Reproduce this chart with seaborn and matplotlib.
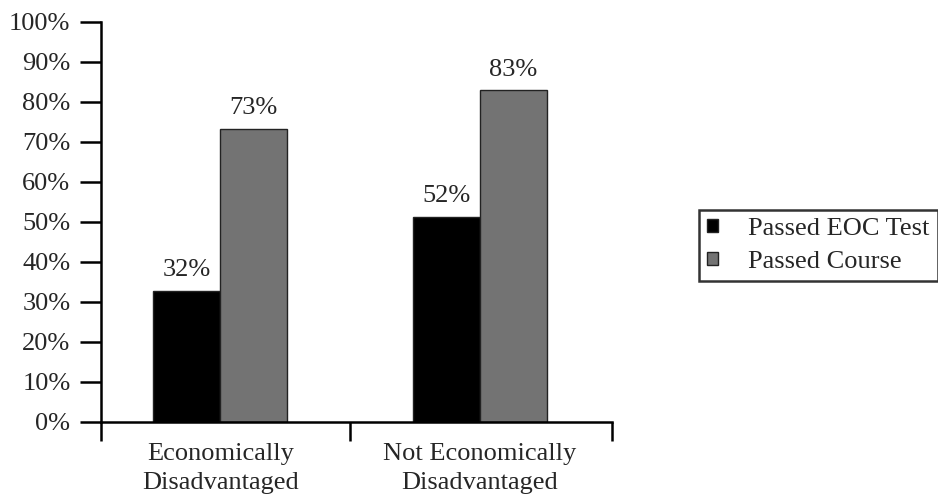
import matplotlib
matplotlib.use("Agg")
import matplotlib.pyplot as plt
import seaborn as sns
import pandas as pd

categories = ["Economically\nDisadvantaged", "Not Economically\nDisadvantaged"]
series_names = ["Passed EOC Test", "Passed Course"]
passed_eoc = [0.328, 0.513]
passed_course = [0.732, 0.829]
eoc_labels = ["32%", "52%"]
course_labels = ["73%", "83%"]
ytick_values = [0.0, 0.1, 0.2, 0.3, 0.4, 0.5, 0.6, 0.7, 0.8, 0.9, 1.0]
ytick_labels = ["0%", "10%", "20%", "30%", "40%", "50%", "60%", "70%", "80%", "90%", "100%"]

df = pd.DataFrame({
    "category": categories * 2,
    "series": [series_names[0]] * 2 + [series_names[1]] * 2,
    "value": passed_eoc + passed_course,
})

sns.set_style("white")
plt.rcParams["font.family"] = ["Liberation Serif", "DejaVu Serif"]
FS = 19

fig = plt.figure(figsize=(9.38, 5.0), dpi=100)
ax = fig.add_axes([101 / 938, 78 / 500, (612 - 101) / 938, 400 / 500])

palette = {series_names[0]: "#000000", series_names[1]: "#737373"}
sns.barplot(data=df, x="category", y="value", hue="series", order=categories,
            hue_order=series_names, palette=palette, width=0.517,
            edgecolor="#222222", linewidth=1.0, saturation=1, ax=ax, legend=True)

ax.set_ylim(0, 1.0)
ax.set_xlim(-0.46, 1.51)
ax.set_yticks(ytick_values)
ax.set_yticklabels(ytick_labels, fontsize=FS)
ax.tick_params(axis="y", direction="out", length=15, width=1.8, pad=7, left=True, color="black")

# category boundary ticks
ax.set_xticks([-0.46, 0.5, 1.51])
ax.set_xticklabels([])
ax.tick_params(axis="x", direction="out", length=14, width=1.8, bottom=True, color="black")
for i, lab in enumerate(categories):
    ax.text(i, -0.052, lab, ha="center", va="top", fontsize=FS,
            transform=ax.get_xaxis_transform(), linespacing=1.4)

ax.set_xlabel("")
ax.set_ylabel("")
for s in ["top", "right"]:
    ax.spines[s].set_visible(False)
for s in ["left", "bottom"]:
    ax.spines[s].set_color("black")
    ax.spines[s].set_linewidth(1.8)

containers = ax.containers
ax.bar_label(containers[0], labels=eoc_labels, padding=7, fontsize=FS)
ax.bar_label(containers[1], labels=course_labels, padding=7, fontsize=FS)

handles, labels = ax.get_legend_handles_labels()
ax.legend_.remove()
leg = fig.legend(handles, labels, loc="upper left", bbox_to_anchor=(699 / 938, 1 - 210 / 500),
                 bbox_transform=fig.transFigure, frameon=True, fancybox=False,
                 fontsize=FS, handlelength=0.42, handleheight=0.42, handletextpad=1.15,
                 borderpad=0.3, labelspacing=0.42, borderaxespad=0)
leg.get_frame().set_edgecolor("black")
leg.get_frame().set_linewidth(1.8)

fig.savefig("out.png", dpi=100)
